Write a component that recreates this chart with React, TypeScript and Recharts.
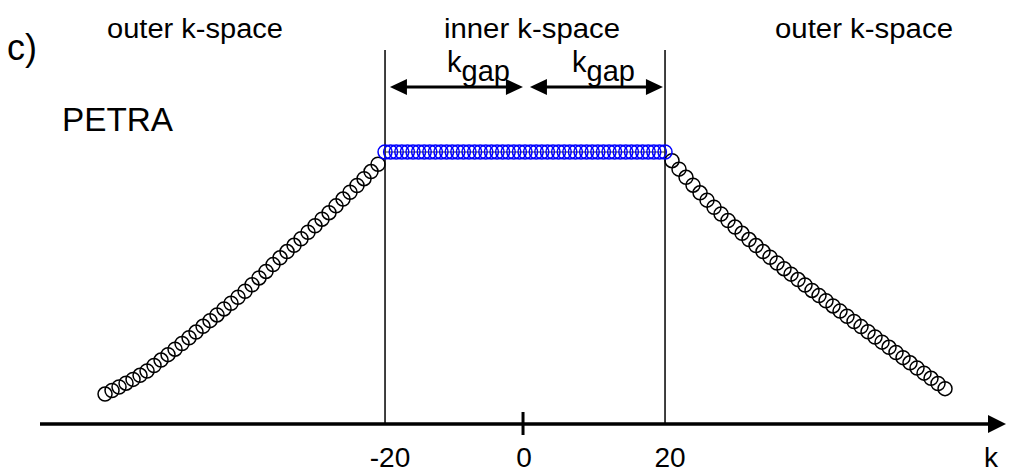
import { ScatterChart, Scatter, XAxis, YAxis, ReferenceLine } from "recharts";

const W = 1018;
const H = 474;
const MARGIN = { top: 50, right: 23, bottom: 0, left: 40 };
const AXIS_H = 50;
const K_DOMAIN: [number, number] = [-69.29, 67.14];
const Y_DOMAIN: [number, number] = [0, 1.375];
const FONT = "'Liberation Sans', Arial, sans-serif";

// axis ticks
const tickValues = [-20, 0, 20];

// inner k-space (blue), flat level
const innerK = [
  -20, -19.2, -18.4, -17.6, -16.8, -16, -15.2, -14.4, -13.6, -12.8, -12, -11.2, -10.4,
  -9.6, -8.8, -8, -7.2, -6.4, -5.6, -4.8, -4, -3.2, -2.4, -1.6, -0.8, 0, 0.8, 1.6, 2.4,
  3.2, 4, 4.8, 5.6, 6.4, 7.2, 8, 8.8, 9.6, 10.4, 11.2, 12, 12.8, 13.6, 14.4, 15.2, 16,
  16.8, 17.6, 18.4, 19.2, 20,
];
const innerLevel = 1;

// outer k-space, left branch
const leftK = [
  -60, -59, -58, -57, -56, -55, -54, -53, -52, -51, -50, -49, -48, -47, -46, -45, -44,
  -43, -42, -41, -40, -39, -38, -37, -36, -35, -34, -33, -32, -31, -30, -29, -28, -27,
  -26, -25, -24, -23, -22, -21,
];
const leftLevel = [
  0.11, 0.123, 0.136, 0.15, 0.164, 0.179, 0.195, 0.215, 0.235, 0.255, 0.275, 0.296,
  0.317, 0.338, 0.359, 0.38, 0.401, 0.423, 0.444, 0.466, 0.488, 0.512, 0.537, 0.561,
  0.586, 0.611, 0.634, 0.657, 0.681, 0.705, 0.729, 0.753, 0.777, 0.802, 0.827, 0.852,
  0.877, 0.902, 0.928, 0.955,
];

// outer k-space, right branch
const rightK = [
  21, 22, 23, 24, 25, 26, 27, 28, 29, 30, 31, 32, 33, 34, 35, 36, 37, 38, 39, 40, 41, 42,
  43, 44, 45, 46, 47, 48, 49, 50, 51, 52, 53, 54, 55, 56, 57, 58, 59, 60,
];
const rightLevel = [
  0.968, 0.937, 0.907, 0.878, 0.85, 0.823, 0.797, 0.772, 0.748, 0.724, 0.701, 0.678,
  0.656, 0.634, 0.613, 0.592, 0.571, 0.551, 0.531, 0.511, 0.491, 0.472, 0.453, 0.434,
  0.415, 0.396, 0.377, 0.358, 0.339, 0.32, 0.301, 0.282, 0.263, 0.244, 0.225, 0.206,
  0.187, 0.168, 0.149, 0.13,
];

// k_gap arrows (in k units)
const gapArrows: [number, number][] = [
  [-19.3, -0.3],
  [0.7, 19.7],
];

const innerData = innerK.map((k) => ({ k, v: innerLevel }));
const leftData = leftK.map((k, i) => ({ k, v: leftLevel[i] }));
const rightData = rightK.map((k, i) => ({ k, v: rightLevel[i] }));

const plotW = W - MARGIN.left - MARGIN.right;
const kToPx = (k: number) =>
  MARGIN.left + ((k - K_DOMAIN[0]) / (K_DOMAIN[1] - K_DOMAIN[0])) * plotW;
const AXIS_Y = H - AXIS_H;

const ring = (color: string) => (p: any) =>
  <circle cx={p.cx} cy={p.cy} r={7} fill="none" stroke={color} strokeWidth={1.5} />;

const AxisTick = (props: any) => {
  const { x, payload } = props;
  const v = payload.value;
  return (
    <g>
      {v === 0 && (
        <line x1={x - 2} x2={x - 2} y1={AXIS_Y - 12} y2={AXIS_Y + 11} stroke="#000" strokeWidth={3} />
      )}
      <text
        x={x + (v === 0 ? -1 : 5)}
        y={467}
        textAnchor="middle"
        fontSize={28}
        fontFamily={FONT}
        fill="#000"
      >
        {v}
      </text>
    </g>
  );
};

const Arrow = ({ x1, x2, y }: { x1: number; x2: number; y: number }) => (
  <g>
    <line x1={x1 + 14} x2={x2 - 14} y1={y} y2={y} stroke="#000" strokeWidth={3} />
    <polygon points={`${x1},${y} ${x1 + 17},${y - 8} ${x1 + 17},${y + 8}`} fill="#000" />
    <polygon points={`${x2},${y} ${x2 - 17},${y - 8} ${x2 - 17},${y + 8}`} fill="#000" />
  </g>
);

export default function App() {
  return (
    <div
      style={{
        position: "absolute",
        left: 0,
        top: 0,
        width: W,
        height: H,
        background: "#fff",
        overflow: "hidden",
      }}
    >
      <ScatterChart width={W} height={H} margin={MARGIN}>
        <XAxis
          type="number"
          dataKey="k"
          domain={K_DOMAIN}
          allowDataOverflow
          ticks={tickValues}
          height={AXIS_H}
          axisLine={{ stroke: "#000", strokeWidth: 3.5 }}
          tickLine={false}
          tick={<AxisTick />}
          interval={0}
        />
        <YAxis type="number" dataKey="v" domain={Y_DOMAIN} hide allowDataOverflow />
        <ReferenceLine x={-20} stroke="#000" strokeWidth={1.5} />
        <ReferenceLine x={20} stroke="#000" strokeWidth={1.5} />
        <Scatter data={leftData} shape={ring("#000")} isAnimationActive={false} />
        <Scatter data={rightData} shape={ring("#000")} isAnimationActive={false} />
        <Scatter data={innerData} shape={ring("#0000ff")} isAnimationActive={false} />
        <ReferenceLine
          segment={[
            { x: -20, y: innerLevel },
            { x: 20, y: innerLevel },
          ]}
          stroke="#333"
          strokeWidth={1}
        />
      </ScatterChart>
      <svg
        width={W}
        height={H}
        style={{ position: "absolute", left: 0, top: 0, pointerEvents: "none" }}
        fontFamily={FONT}
      >
        <text x={7} y={60} fontSize={36}>c)</text>
        <text x={107} y={38} fontSize={27} textLength={176} lengthAdjust="spacingAndGlyphs">
          outer k-space
        </text>
        <text x={444} y={38} fontSize={27} textLength={176} lengthAdjust="spacingAndGlyphs">
          inner k-space
        </text>
        <text x={775} y={38} fontSize={27} textLength={178} lengthAdjust="spacingAndGlyphs">
          outer k-space
        </text>
        <text x={62} y={131} fontSize={34} textLength={111} lengthAdjust="spacingAndGlyphs">
          PETRA
        </text>
        <text x={447} y={72} fontSize={29}>
          k<tspan dy={9}>gap</tspan>
        </text>
        <text x={572} y={72} fontSize={29}>
          k<tspan dy={9}>gap</tspan>
        </text>
        {gapArrows.map(([a, b], i) => (
          <Arrow key={i} x1={kToPx(a)} x2={kToPx(b)} y={87} />
        ))}
        <polygon
          points={`${1006},${AXIS_Y} ${988},${AXIS_Y - 9} ${988},${AXIS_Y + 9}`}
          fill="#000"
        />
        <text x={984} y={467} fontSize={28}>k</text>
      </svg>
    </div>
  );
}
